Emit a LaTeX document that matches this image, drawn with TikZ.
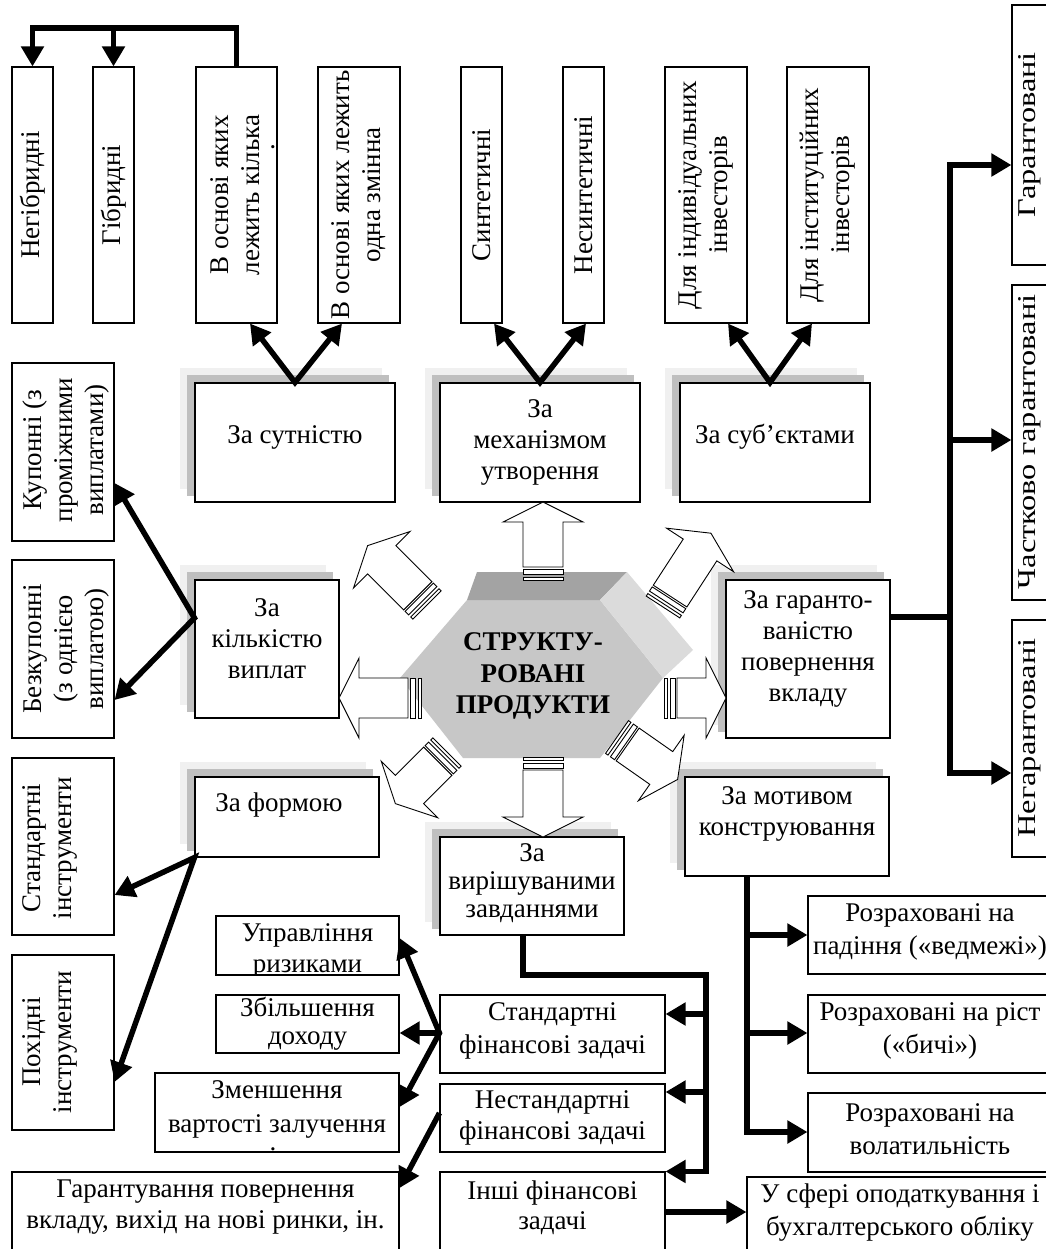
\documentclass[tikz,border=0pt]{standalone}
\usepackage{fontspec}
\setmainfont{Liberation Serif}
\usetikzlibrary{arrows.meta}
\pgfdeclarelayer{bg}
\pgfsetlayers{bg,main}
\tikzset{
  bx/.style={draw, line width=1.1pt, fill=white, inner sep=0pt},
  tx/.style={font=\fontsize{27}{31}\selectfont, align=center, inner sep=0pt},
  txr/.style={tx, rotate=90},
  arr/.style={line width=5.5pt, -{Triangle[length=20pt,width=22pt]}},
  arrb/.style={line width=5.5pt, {Triangle[length=20pt,width=22pt]}-{Triangle[length=20pt,width=22pt]}},
  shl/.style={fill=black!6},
  shm/.style={fill=black!25},
}
\newcommand\blockarr[4]{%
 \begin{scope}[shift={(#2,#3)}, rotate=#1, line width=0.9pt]
  \draw[fill=white] (0,-20) rectangle (3,20);
  \draw[fill=white] (6,-20) rectangle (11,20);
  \draw[fill=white] (13,-20) -- ({#4-20},-20) -- ({#4-20},-40) -- (#4,0) -- ({#4-20},40) -- ({#4-20},20) -- (13,20) -- cycle;
 \end{scope}}
\newcommand\shadowof[1]{%
 \begin{pgfonlayer}{bg}
 \fill[shl] ([shift={(-14,-14)}]#1.south west) rectangle ([shift={(-14,-14)}]#1.north east);
 \fill[shm] ([shift={(-7,-7)}]#1.south west) rectangle ([shift={(-7,-7)}]#1.north east);
 \end{pgfonlayer}}
\newcommand\stretchtxt[1]{\scalebox{1.2}[0.95]{#1}}
\begin{document}
\begin{tikzpicture}[x=1pt,y=-1pt]
\begin{pgfonlayer}{bg}
\fill[white] (0,0) rectangle (1045,1249);
\end{pgfonlayer}
\useasboundingbox (0,0) rectangle (1045,1249);

% centre hexagon
\begin{pgfonlayer}{bg}
\fill[black!22] (467,600) -- (600,600) -- (663,678) -- (600,758) -- (463,758) -- (400,678) -- cycle;
\fill[black!36] (477,572) -- (627,572) -- (600,600) -- (467,600) -- cycle;
\fill[black!14] (600,600) -- (627,572) -- (693,650) -- (663,678) -- cycle;
\end{pgfonlayer}
\node[tx,font=\bfseries\fontsize{27}{31.5}\selectfont] (hex) at (533,676) {СТРУКТУ-\\РОВАНІ\\ПРОДУКТИ};

% top row
\node[bx,minimum width=41pt,minimum height=256pt] (a1) at (32.5,195) {};
\node[txr] (a1t) at (a1) {Негібридні};
\node[bx,minimum width=41pt,minimum height=256pt] (a2) at (113.5,195) {};
\node[txr] (a2t) at (a2) {Гібридні};
\node[bx,minimum width=81pt,minimum height=256pt] (a3) at (236.5,195) {};
\node[txr] (a3t) at (235,195) {В основі яких\\лежить кілька};
\node[txr] (a3d) at (273,147) {.};
\node[bx,minimum width=82pt,minimum height=256pt] (a4) at (359,195) {};
\node[txr] (a4t) at (a4) {В основі яких лежить\\одна змінна};
\node[bx,minimum width=41pt,minimum height=256pt] (b1) at (481.5,195) {};
\node[txr] (b1t) at (b1) {Синтетичні};
\node[bx,minimum width=41pt,minimum height=256pt] (b2) at (583.5,195) {};
\node[txr] (b2t) at (b2) {Несинтетичні};
\node[bx,minimum width=82pt,minimum height=256pt] (c1) at (706,195) {};
\node[txr] (c1t) at (c1) {Для індивідуальних\\інвесторів};
\node[bx,minimum width=82pt,minimum height=256pt] (c2) at (828,195) {};
\node[txr] (c2t) at (c2) {Для інституційних\\інвесторів};

% right column
\node[bx,minimum width=38pt,minimum height=260pt] (r1) at (1031,135) {};
\node[txr] (r1t) at (1030,135) {\stretchtxt{Гарантовані}};
\node[bx,minimum width=38pt,minimum height=315pt] (r2) at (1031,442.5) {};
\node[txr] (r2t) at (1030,442) {\stretchtxt{Частково гарантовані}};
\node[bx,minimum width=38pt,minimum height=237pt] (r3) at (1031,738.5) {};
\node[txr] (r3t) at (1030,738) {\stretchtxt{Негарантовані}};

% category boxes
\node[bx,minimum width=200pt,minimum height=119pt] (s1) at (295,442.5) {};
\node[tx] (s1t) at (295,437) {За сутністю};
\node[bx,minimum width=200pt,minimum height=119pt] (s2) at (540,442.5) {};
\node[tx] (s2t) at (540,442) {За\\механізмом\\утворення};
\node[bx,minimum width=190pt,minimum height=119pt] (s3) at (775,442.5) {};
\node[tx] (s3t) at (775,437) {За суб’єктами};
\node[bx,minimum width=144pt,minimum height=138pt] (s4) at (267,649) {};
\node[tx] (s4t) at (267,639) {За\\кількістю\\виплат};
\node[bx,minimum width=164pt,minimum height=158pt] (s5) at (808,659) {};
\node[tx] (s5t) at (808,649) {За гаранто-\\ваністю\\повернення\\вкладу};
\node[bx,minimum width=184pt,minimum height=80pt] (s6) at (287,817) {};
\node[tx] (s6t) at (279,805) {За формою};
\node[bx,minimum width=184pt,minimum height=98pt] (s7) at (532,886) {};
\node[tx,font=\fontsize{27}{28}\selectfont] (s7t) at (532,883) {За\\вирішуваними\\завданнями};
\node[bx,minimum width=204pt,minimum height=99pt] (s8) at (787,826.5) {};
\node[tx] (s8t) at (787,814) {За мотивом\\конструювання};
\shadowof{s1}\shadowof{s2}\shadowof{s3}\shadowof{s4}
\shadowof{s5}\shadowof{s6}\shadowof{s7}\shadowof{s8}

% left column
\node[bx,minimum width=102pt,minimum height=178pt] (l1) at (63,452) {};
\node[txr] (l1t) at (66,450) {Купонні (з\\проміжними\\виплатами)};
\node[bx,minimum width=102pt,minimum height=178pt] (l2) at (63,649) {};
\node[txr] (l2t) at (66,649) {Безкупонні\\(з однією\\виплатою)};
\node[bx,minimum width=102pt,minimum height=177pt] (l3) at (63,846.5) {};
\node[txr] (l3t) at (50,848) {Стандартні\\інструменти};
\node[bx,minimum width=102pt,minimum height=175pt] (l4) at (63,1042.5) {};
\node[txr] (l4t) at (50,1042) {Похідні\\інструменти};

% bottom left
\node[bx,minimum width=183pt,minimum height=59pt] (m1) at (307.5,945.5) {};
\begin{scope}
\clip (m1.south west) rectangle (m1.north east);
\node[tx] (m1t) at (307.5,951) {Управління\\ризиками};
\end{scope}
\node[bx,minimum width=183pt,minimum height=58pt] (m2) at (307.5,1024) {};
\node[tx,font=\fontsize{27}{28}\selectfont] (m2t) at (307.5,1024) {Збільшення\\доходу};
\node[bx,minimum width=244pt,minimum height=79pt] (m3) at (277,1112.5) {};
\node[tx,font=\fontsize{27}{34}\selectfont] (m3t) at (277,1109) {Зменшення\\вартості залучення};
\node[tx] (m3d) at (273,1149) {.};
\node[bx,minimum width=387pt,minimum height=90pt] (m4) at (205.5,1217) {};
\node[tx] (m4t) at (205.5,1207) {Гарантування повернення\\вкладу, вихід на нові ринки, ін.};

% tasks
\node[bx,minimum width=225pt,minimum height=78pt] (n1) at (552.5,1034) {};
\node[tx,font=\fontsize{27}{33}\selectfont] (n1t) at (552.5,1031) {Стандартні\\фінансові задачі};
\node[bx,minimum width=225pt,minimum height=68pt] (n2) at (552.5,1118) {};
\node[tx] (n2t) at (552.5,1118) {Нестандартні\\фінансові задачі};
\node[bx,minimum width=225pt,minimum height=90pt] (n3) at (552.5,1217) {};
\node[tx,font=\fontsize{27}{30}\selectfont] (n3t) at (552.5,1208) {Інші фінансові\\задачі};

% motive
\node[bx,minimum width=262pt,minimum height=78pt] (p1) at (939,935) {};
\node[tx,font=\fontsize{27}{33}\selectfont] (p1t) at (930,932) {Розраховані на\\падіння («ведмежі»)};
\node[bx,minimum width=262pt,minimum height=78pt] (p2) at (939,1034) {};
\node[tx,font=\fontsize{27}{33}\selectfont] (p2t) at (930,1031) {Розраховані на ріст\\(«бичі»)};
\node[bx,minimum width=262pt,minimum height=79pt] (p3) at (939,1132.5) {};
\node[tx,font=\fontsize{27}{33}\selectfont] (p3t) at (930,1129) {Розраховані на\\волатильність};
\node[bx,minimum width=323pt,minimum height=85pt] (t) at (908.5,1219.5) {};
\node[tx,font=\fontsize{27}{33}\selectfont] (tt) at (900,1213) {У сфері оподаткування і\\бухгалтерського обліку};

% block arrows from the centre
\blockarr{90}{543}{580}{78}
\blockarr{-90}{543}{757}{80}
\blockarr{180}{421}{698}{82}
\blockarr{0}{664}{698}{62}
\blockarr{135}{427}{605}{84}
\blockarr{57}{663}{607}{88}
\blockarr{225}{447}{752}{73}
\blockarr{-35}{617}{737}{74}

% connectors
\coordinate (tj) at (236.5,28);
\draw[arr] (a3.north) -- (tj) -| (a1.north);
\draw[arr] (a2.north |- tj) -- (a2.north);
\draw[arrb] (a3.south -| 250,0) -- (s1.north) -- (a4.south -| 342,0);
\draw[arrb] (b1.south -| 494,0) -- (s2.north) -- (b2.south -| 586,0);
\draw[arrb] (c1.south -| 728,0) -- (s3.north -| 770,0) -- (c2.south -| 812,0);

\coordinate (rj) at (950,617);
\draw[line width=5.5pt] (s5.east |- rj) -- (rj);
\draw[arr] (rj) |- (r1.west |- 0,165);
\draw[arr] (rj) |- (r3.west |- 0,773);
\draw[arr] (rj |- 0,440) -- (r2.west |- 0,440);

\coordinate (mt) at (s8.south -| 747,0);
\draw[arr] (mt) |- (p3.west |- 0,1132);
\draw[arr] (mt |- 0,935) -- (p1.west |- 0,935);
\draw[arr] (mt |- 0,1033) -- (p2.west |- 0,1033);

\coordinate (tv) at (706,975);
\draw[arr] (s7.south -| 523,0) |- (tv) |- (n3.north east);
\draw[arr] (tv |- 0,1014) -- (n1.east |- 0,1014);
\draw[arr] (tv |- 0,1092) -- (n2.east |- 0,1092);
\draw[arr] (n3.east |- 0,1212) -- (t.west |- 0,1212);

\draw[arrb] (l1.east |- 0,483) -- (s4.west |- 0,618) -- (l2.east |- 0,700);
\draw[arrb] (l3.east |- 0,895) -- (s6.south west) -- (l4.east |- 0,1082);
\draw[arrb] (m1.east |- 0,938) -- (n1.west |- 0,1033) -- (m3.east |- 0,1107);
\draw[arr] (n1.west |- 0,1033) -- (m2.east |- 0,1033);
\draw[arr] (n2.west |- 0,1113) -- (m4.east |- 0,1188);
\end{tikzpicture}
\end{document}
